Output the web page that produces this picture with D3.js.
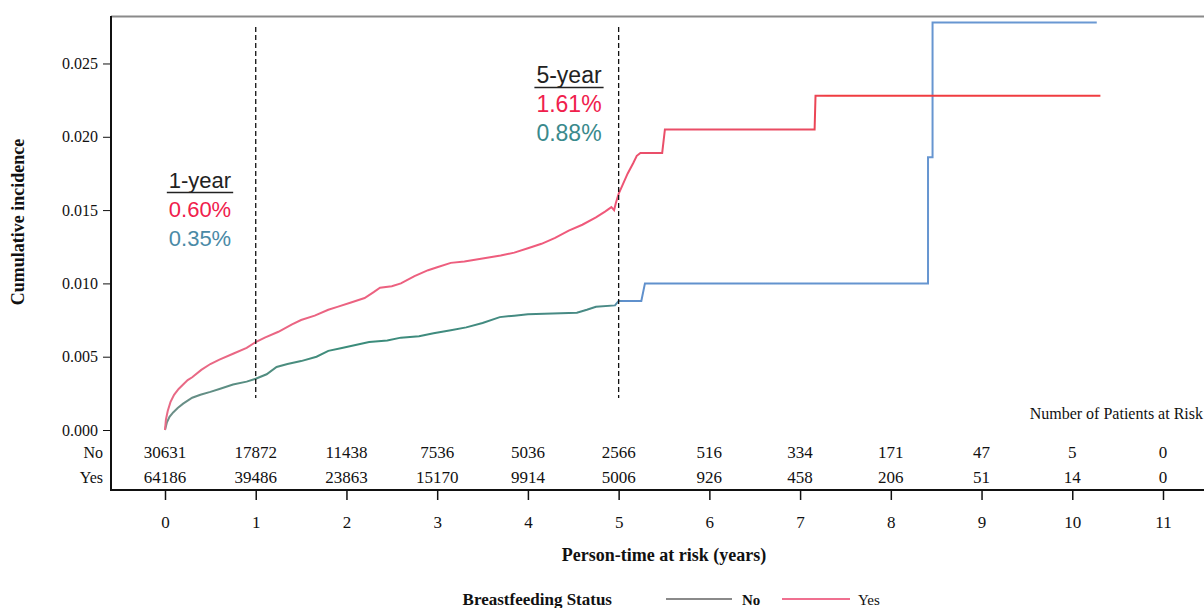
<!DOCTYPE html>
<html><head><meta charset="utf-8">
<script src="https://cdn.jsdelivr.net/npm/d3@7"></script>
<style>body{margin:0;background:#fff}svg{display:block}</style>
</head><body>
<svg id="c" width="1204" height="608"></svg>
<script>
// ---- data ----
const xTicks = [0,1,2,3,4,5,6,7,8,9,10,11];
const yTicks = [0.000,0.005,0.010,0.015,0.020,0.025];
const yesTime = [0,0.01,0.03,0.06,0.1,0.15,0.2,0.25,0.3,0.4,0.5,0.6,0.75,0.9,1.0,1.1,1.25,1.4,1.5,1.65,1.8,1.9,2.05,2.2,2.3,2.37,2.5,2.6,2.75,2.9,3.0,3.15,3.3,3.5,3.7,3.85,4.0,4.15,4.3,4.45,4.6,4.75,4.85,4.92,4.95,4.97,5.0,5.05,5.1,5.16,5.2,5.24,5.48,5.51,7.16,7.17,10.31];
const yesCI  = [0,0.0007,0.0013,0.0019,0.0024,0.0028,0.0031,0.0034,0.0036,0.0041,0.0045,0.0048,0.0052,0.0056,0.0060,0.0063,0.0067,0.0072,0.0075,0.0078,0.0082,0.0084,0.0087,0.0090,0.0094,0.0097,0.0098,0.0100,0.0105,0.0109,0.0111,0.0114,0.0115,0.0117,0.0119,0.0121,0.0124,0.0127,0.0131,0.0136,0.0140,0.0145,0.0149,0.0152,0.0150,0.0155,0.0161,0.0168,0.0175,0.0182,0.0187,0.0189,0.0189,0.0205,0.0205,0.0228,0.0228];
const noTime = [0,0.02,0.05,0.09,0.14,0.2,0.25,0.3,0.39,0.5,0.6,0.75,0.9,1.0,1.12,1.23,1.35,1.5,1.67,1.8,1.95,2.1,2.25,2.45,2.6,2.8,2.96,3.15,3.32,3.5,3.69,3.85,4.0,4.54,4.65,4.75,4.96,5.0,5.25,5.29,8.41,8.41,8.46,8.46,10.27];
const noCI   = [0,0.0005,0.0009,0.0012,0.0015,0.0018,0.0020,0.0022,0.0024,0.0026,0.0028,0.0031,0.0033,0.0035,0.0038,0.0043,0.0045,0.0047,0.0050,0.0054,0.0056,0.0058,0.0060,0.0061,0.0063,0.0064,0.0066,0.0068,0.0070,0.0073,0.0077,0.0078,0.0079,0.0080,0.0082,0.0084,0.0085,0.0088,0.0088,0.0100,0.0100,0.0186,0.0186,0.0278,0.0278];
const riskNo  = [30631,17872,11438,7536,5036,2566,516,334,171,47,5,0];
const riskYes = [64186,39486,23863,15170,9914,5006,926,458,206,51,14,0];
const landmarkYears = [1,5];
const annLabels = [["1-year","0.60%","0.35%"],["5-year","1.61%","0.88%"]];

// ---- chart ----
const svg = d3.select("#c");
const x = d3.scaleLinear().domain([0,11]).range([165,1163]);
const y = d3.scaleLinear().domain([0,0.028]).range([430,19.5]);
const serif = "'Liberation Serif', 'Times New Roman', serif";
const sans = "'Liberation Sans', Arial, sans-serif";

// frame
svg.append("line").attr("x1",111).attr("x2",1204).attr("y1",16.5).attr("y2",16.5).attr("stroke","#8a8a8a").attr("stroke-width",2);
svg.append("line").attr("x1",111).attr("x2",111).attr("y1",16).attr("y2",491).attr("stroke","#111").attr("stroke-width",2);

// y axis
const yAx = svg.append("g").attr("transform","translate(111,0)")
  .call(d3.axisLeft(y).tickValues(yTicks).tickFormat(d3.format(".3f")).tickSize(8).tickSizeOuter(0));
yAx.select(".domain").remove();
yAx.selectAll("text").attr("font-family",serif).attr("font-size",16).attr("fill","#111").attr("dx",-2);
yAx.selectAll("line").attr("stroke","#111");

// x axis
const xAx = svg.append("g").attr("transform","translate(0,490)")
  .call(d3.axisBottom(x).tickValues(xTicks).tickFormat(d3.format("d")).tickSize(10).tickSizeOuter(0));
xAx.select(".domain").remove();
svg.append("line").attr("x1",110).attr("x2",1204).attr("y1",490).attr("y2",490).attr("stroke","#111").attr("stroke-width",2);
xAx.selectAll("line").attr("stroke","#111").attr("stroke-width",1.5);
xAx.selectAll("text").attr("font-family",serif).attr("font-size",17).attr("fill","#111").attr("dy","1.45em");

// gradients for curve colours
const defs = svg.append("defs");
function grad(id, stops){
  const g = defs.append("linearGradient").attr("id",id).attr("gradientUnits","userSpaceOnUse")
    .attr("x1",x(0)).attr("x2",x(11)).attr("y1",0).attr("y2",0);
  stops.forEach(s=>g.append("stop").attr("offset",(x(s[0])-x(0))/(x(11)-x(0))).attr("stop-color",s[1]));
}
grad("gYes",[[0,"#e86a86"],[4.9,"#f0587a"],[5.3,"#ea4f6a"],[7.1,"#e94a60"],[7.3,"#f03c40"],[11,"#f03c40"]]);
grad("gNo",[[0,"#6e8f88"],[2,"#3a8c7a"],[4.9,"#4a8a86"],[5.05,"#5f90cc"],[11,"#6c9ad4"]]);

// curves
const line = d3.line().x(d=>x(d[0])).y(d=>y(d[1])).curve(d3.curveLinear);
svg.append("path").datum(noTime.map((t,i)=>[t,noCI[i]])).attr("d",line)
  .attr("fill","none").attr("stroke","url(#gNo)").attr("stroke-width",2);
svg.append("path").datum(yesTime.map((t,i)=>[t,yesCI[i]])).attr("d",line)
  .attr("fill","none").attr("stroke","url(#gYes)").attr("stroke-width",2);

// landmark dashed lines
svg.selectAll(".lm").data(landmarkYears).enter().append("line")
  .attr("x1",d=>x(d)).attr("x2",d=>x(d)).attr("y1",27).attr("y2",398)
  .attr("stroke","#111").attr("stroke-width",1.3).attr("stroke-dasharray","5,3");

// annotations
const annPos = [[200,188,22],[569,83,23]];
annLabels.forEach((a,i)=>{
  const [cx,by,fs] = annPos[i];
  const t = svg.append("text").attr("x",cx).attr("y",by).attr("text-anchor","middle")
    .attr("font-family",sans).attr("font-size",fs).attr("fill","#222").text(a[0]);
  const w = t.node().getComputedTextLength();
  svg.append("line").attr("x1",cx-w/2-2).attr("x2",cx+w/2+2).attr("y1",by+4.5).attr("y2",by+4.5).attr("stroke","#222").attr("stroke-width",1.5);
  svg.append("text").attr("x",cx).attr("y",by+29).attr("text-anchor","middle")
    .attr("font-family",sans).attr("font-size",fs).attr("fill","#f0204c").text(a[1]);
  svg.append("text").attr("x",cx).attr("y",by+58).attr("text-anchor","middle")
    .attr("font-family",sans).attr("font-size",fs).attr("fill",i===0?"#4a8aa6":"#3a8a8c").text(a[2]);
});

// risk table
svg.append("text").attr("x",1203).attr("y",419).attr("text-anchor","end")
  .attr("font-family",serif).attr("font-size",16).attr("fill","#111").text("Number of Patients at Risk");
[["No",riskNo,458],["Yes",riskYes,483]].forEach(([lab,vals,by])=>{
  svg.append("text").attr("x",103).attr("y",by).attr("text-anchor","end")
    .attr("font-family",serif).attr("font-size",16).attr("fill","#111").text(lab);
  svg.selectAll(null).data(vals).enter().append("text")
    .attr("x",(d,i)=>x(xTicks[i])).attr("y",by).attr("text-anchor","middle")
    .attr("font-family",serif).attr("font-size",17).attr("fill","#111").text(d=>d);
});

// axis titles
svg.append("text").attr("x",664).attr("y",561).attr("text-anchor","middle")
  .attr("font-family",serif).attr("font-weight","bold").attr("font-size",18).attr("fill","#111")
  .text("Person-time at risk (years)");
svg.append("text").attr("transform","translate(24,222) rotate(-90)").attr("text-anchor","middle")
  .attr("font-family",serif).attr("font-weight","bold").attr("font-size",18).attr("fill","#111")
  .text("Cumulative incidence");

// legend
const lg = svg.append("g");
lg.append("text").attr("x",612).attr("y",605).attr("text-anchor","end")
  .attr("font-family",serif).attr("font-weight","bold").attr("font-size",17).attr("fill","#111").text("Breastfeeding Status");
lg.append("line").attr("x1",666).attr("x2",732).attr("y1",599).attr("y2",599).attr("stroke","#8a8a8a").attr("stroke-width",2);
lg.append("text").attr("x",742).attr("y",605).attr("font-family",serif).attr("font-weight","bold").attr("font-size",15).attr("fill","#111").text("No");
lg.append("line").attr("x1",782).attr("x2",850).attr("y1",599).attr("y2",599).attr("stroke","#f07090").attr("stroke-width",2);
lg.append("text").attr("x",858).attr("y",605).attr("font-family",serif).attr("font-size",15).attr("fill","#111").text("Yes");
</script>
</body></html>
